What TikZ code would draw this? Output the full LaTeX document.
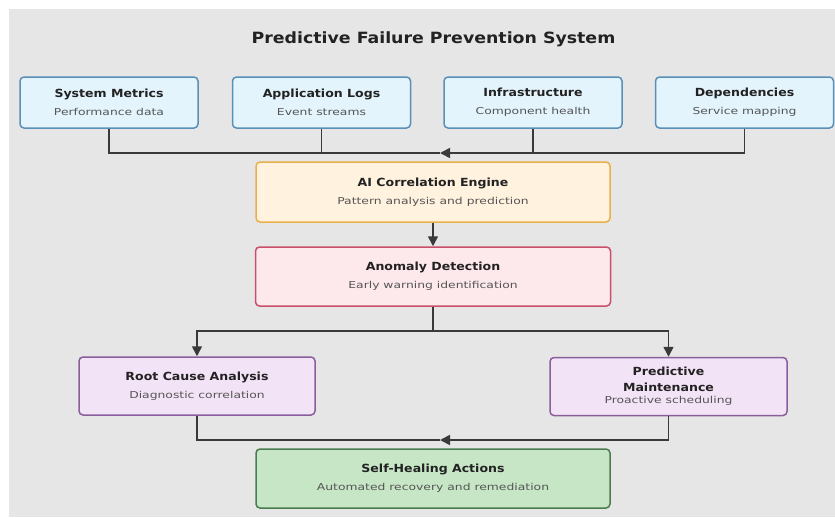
\documentclass[tikz,border=0pt]{standalone}
\usepackage{fontspec}
\setmainfont{DejaVu Sans}
\newfontfamily\titfont[FakeStretch=1.12]{DejaVu Sans}
\newfontfamily\subfont[FakeStretch=1.3]{DejaVu Sans}
\usetikzlibrary{arrows.meta}
\definecolor{bgc}{HTML}{E6E6E6}
\definecolor{bluef}{HTML}{E3F4FC}
\definecolor{blued}{HTML}{5A8FB8}
\definecolor{orangef}{HTML}{FFF2DE}
\definecolor{oranged}{HTML}{E8B04A}
\definecolor{redf}{HTML}{FDE8EC}
\definecolor{redd}{HTML}{C8506A}
\definecolor{purpf}{HTML}{F3E3F6}
\definecolor{purpd}{HTML}{8A5E9C}
\definecolor{greenf}{HTML}{C6E6C6}
\definecolor{greend}{HTML}{4A7D4E}
\definecolor{linec}{HTML}{3A3A3A}
\definecolor{titc}{HTML}{222222}
\definecolor{subc}{HTML}{555555}
\tikzset{
  box/.style={draw, rounded corners=4pt, line width=1.5pt, align=center, inner sep=0pt},
  bluebox/.style={box, fill=bluef, draw=blued, minimum width=178pt, minimum height=51pt},
  conn/.style={draw=linec, line width=1.6pt},
  arr/.style={conn, -{Triangle[length=10pt,width=10pt]}},
}
\newcommand{\boxtl}[1]{{\titfont\fontsize{11.2}{13}\selectfont\bfseries\color{titc}#1}}
\newcommand{\boxsb}[1]{{\subfont\fontsize{9.5}{11}\selectfont\color{subc}#1}}
\newcommand{\boxtxt}[2]{\boxtl{#1}\\[6pt]\boxsb{#2}}
\begin{document}
\begin{tikzpicture}[x=1pt,y=-1pt]
\useasboundingbox (0,0) rectangle (835,517);
\fill[bgc] (9,9) rectangle (835,517);
\node[font=\titfont\fontsize{15.5}{18}\selectfont\bfseries, text=titc] (title) at (433.5,39) {Predictive Failure Prevention System};
\node[bluebox] (m1) at (109,102.5) {\boxtxt{System Metrics}{Performance data}};
\node[bluebox] (m2) at (321.5,102.5) {\boxtxt{Application Logs}{Event streams}};
\node[bluebox] (m3) at (533,102.5) {\boxtxt{Infrastructure}{Component health}};
\node[bluebox] (m4) at (744.5,102.5) {\boxtxt{Dependencies}{Service mapping}};
\node[box, fill=orangef, draw=oranged, minimum width=354pt, minimum height=60pt] (ai) at (433,192) {\boxtxt{AI Correlation Engine}{Pattern analysis and prediction}};
\node[box, fill=redf, draw=redd, minimum width=355pt, minimum height=59pt] (an) at (433,276.5) {\boxtxt{Anomaly Detection}{Early warning identification}};
\node[box, fill=purpf, draw=purpd, minimum width=236pt, minimum height=58pt] (rc) at (197,386) {\boxtxt{Root Cause Analysis}{Diagnostic correlation}};
\node[box, fill=purpf, draw=purpd, minimum width=237pt, minimum height=58pt] (pm) at (668.5,386.5) {\boxtl{Predictive}\\[4pt]\boxtl{Maintenance}\\[0pt]\boxsb{Proactive scheduling}};
\node[box, fill=greenf, draw=greend, minimum width=354pt, minimum height=59pt] (sh) at (433,478.5) {\boxtxt{Self-Healing Actions}{Automated recovery and remediation}};
\coordinate (j1) at (440,153);
\coordinate (sp) at (433,331);
\coordinate (j2) at (440,440);
\draw[conn] (m1.south) |- (j1);
\draw[conn] (m2.south) -- (m2.south |- j1);
\draw[conn] (m3.south) -- (m3.south |- j1);
\draw[arr] (m4.south) |- (j1);
\draw[arr] (ai.south) -- (an.north);
\draw[conn] (an.south) -- (sp);
\draw[arr] (sp) -| (rc.north);
\draw[arr] (sp) -| (pm.north);
\draw[conn] (rc.south) |- (j2);
\draw[arr] (pm.south) |- (j2);
\end{tikzpicture}
\end{document}
